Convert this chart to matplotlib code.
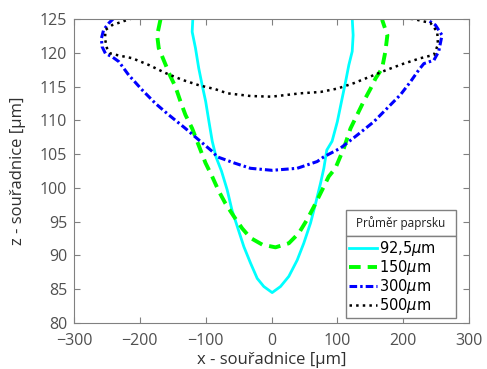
import matplotlib
matplotlib.use("Agg")
import matplotlib.pyplot as plt
from matplotlib.patches import Rectangle

# beam diameter curves (x [um], z [um])
x_925 = [-119.6, -120.5, -115.5, -110.5, -105.3, -100, -95, -90, -84, -76, -67.3, -60, -52,
         -42, -32, -21.7, -11.7, 1, 13.7, 26.3, 39, 49, 59.3, 67, 74.5, 79.5, 84,
         92, 100, 107.4, 112.5, 117.5, 122.6, 124, 122.6]
z_925 = [124.9, 123.1, 120.7, 117.7, 115.2, 112.8, 109.8, 106.9, 104.5, 102.5, 99.7, 96.7, 94.3,
         91.3, 88.9, 86.6, 85.4, 84.5, 85.4, 86.9, 89.3, 91.8, 94.8, 97.7, 100.7, 102.9, 105.6,
         106.9, 109.8, 113.3, 115.7, 118.2, 120.2, 122.6, 125.1]

x_150 = [-168.7, -173.7, -171.3, -163.7, -153.5, -146, -138.3, -130.7, -120.5, -113, -100.3,
         -90.2, -80, -70, -57.3, -44.5, -32, -14, 6, 26.3, 41.5, 54, 64.3, 77, 87, 97,
         110, 120, 130, 140, 150.5, 158, 168, 173, 176, 168]
z_150 = [124.9, 122.6, 120.7, 118.9, 116.5, 115, 112.8, 110.8, 108.8, 106.9, 103.7,
         101.7, 99.5, 97.7, 95.8, 94.0, 92.6, 91.6, 91.2, 91.8, 93.3, 95.3, 97.2, 99.7, 101.7, 102.9,
         105.9, 108.8, 110.8, 112.8, 114.7, 116.2, 117.7, 120.2, 122.6, 124.9]

x_300 = [-239.6, -247, -255, -258.4, -257.3, -252.3, -242, -232, -216.9, -196.5, -176.3, -156,
         -130.7, -110.5, -90, -82.5, -57, -32, 1, 39, 69.4, 79.5, 105, 130, 155.5, 175.8,
         196, 211, 224, 231.5, 246.7, 254, 259, 249, 236.6]
z_300 = [125.1, 124.4, 123.4, 122.1, 120.9, 119.9, 119.4, 118.7, 116.7, 114.5, 112.5, 110.8,
         108.8, 107.1, 105.4, 104.6, 103.7, 102.9, 102.6, 102.9, 103.9, 104.6, 105.9, 107.8, 109.8, 111.8,
         113.8, 115.7, 117.5, 118.4, 118.9, 120.2, 122.6, 124.1, 124.9]

x_500 = [-211.7, -227, -242, -252, -253, -250, -244.7, -232, -211.7, -186.5, -161, -135.7,
         -110.5, -85, -67, -32, 0, 44, 74.5, 100, 125, 150.5, 175.8, 201, 226.4, 246.7,
         252.8, 251.8, 241.6, 216, 191]
z_500 = [125.1, 124.6, 124.1, 123.4, 122.1, 120.7, 119.9, 119.6, 119.2, 118.2, 117, 116,
         115.2, 114.6, 114.0, 113.6, 113.5, 114.0, 114.2, 114.7, 115.5, 116.5, 117.5, 118.4, 119.2, 119.7,
         121.2, 123.1, 124.4, 125, 125.1]

labels = ['92,5$\\mu$m', '150$\\mu$m', '300$\\mu$m', '500$\\mu$m']
legend_title = 'Průměr paprsku'

plt.rcParams['font.family'] = ['Open Sans', 'DejaVu Sans']
plt.rcParams['mathtext.fontset'] = 'dejavusans'

fig = plt.figure(figsize=(4.87, 3.69), dpi=100)
ax = fig.add_axes([74 / 487, 1 - 323 / 369, 395 / 487, 304 / 369])

l1, = ax.plot(x_925, z_925, '-', color='#00ffff', lw=2)
l2, = ax.plot(x_150, z_150, color='#00ff00', lw=2.8, dashes=(3, 1.8))
l3, = ax.plot(x_300, z_300, color='#0000ff', lw=2.2, dashes=(2.5, 1, 0.8, 1))
l4, = ax.plot(x_500, z_500, ':', color='black', lw=1.8)

ax.set_xlim(-300, 300)
ax.set_ylim(80, 125)
ax.set_xticks(range(-300, 301, 100))
ax.set_yticks(range(80, 126, 5))
ax.tick_params(direction='in', top=True, right=True, length=4, color='#808080',
               labelsize=11.5, labelcolor='#505050')
ax.tick_params(axis='x', pad=7)
ax.tick_params(axis='y', pad=5)
for s in ax.spines.values():
    s.set_color('#808080')
ax.set_xlabel('x - souřadnice [µm]', fontsize=12, color='#303030', labelpad=2)
ax.set_ylabel('z - souřadnice [µm]', fontsize=12, color='#303030', labelpad=10)

# legend: entries box with separate title box above
fig.add_artist(Rectangle((346 / 487, 1 - 236 / 369), 110 / 487, 26 / 369,
                         transform=fig.transFigure, fill=True, facecolor='white',
                         edgecolor='#808080', lw=1, zorder=5))
fig.text(401 / 487, 1 - 223 / 369, legend_title, ha='center', va='center',
         fontsize=8.5, color='#202020', zorder=6)
leg = fig.legend([l1, l2, l3, l4], labels, loc='upper left',
                 bbox_to_anchor=(346 / 487, 1 - 236 / 369, 110 / 487, 0.0),
                 bbox_transform=fig.transFigure, mode='expand', borderaxespad=0,
                 fancybox=False, edgecolor='#808080', framealpha=1,
                 handlelength=1.9, handletextpad=0.15, labelspacing=0.0,
                 borderpad=0.2, prop={'family': 'DejaVu Sans', 'size': 10.5})
leg.get_frame().set_linewidth(1)

fig.savefig('out.png', dpi=100)
